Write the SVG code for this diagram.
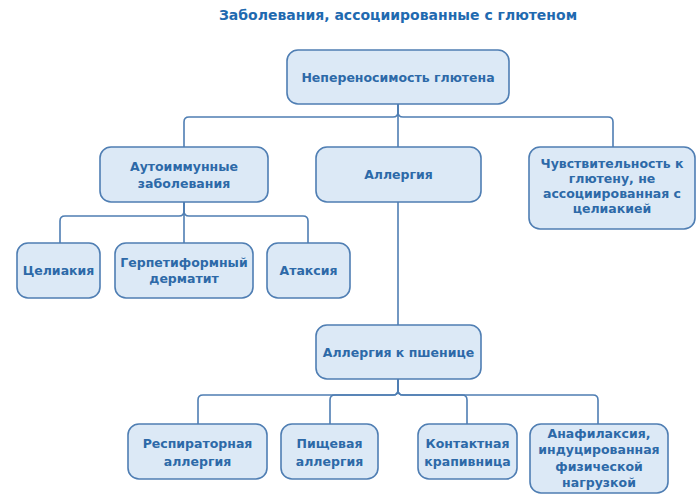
<svg xmlns="http://www.w3.org/2000/svg" width="700" height="497" viewBox="0 0 700 497">
<style>
.box{fill:#dce9f6;stroke:#4f7eb3;stroke-width:1.6}
.t{font-family:"DejaVu Sans","Liberation Sans",sans-serif;font-weight:bold;font-size:12.5px;fill:#2d69a8;text-anchor:middle}
.title{font-family:"DejaVu Sans","Liberation Sans",sans-serif;font-weight:bold;font-size:14px;fill:#1f6ab0;text-anchor:middle}
.c{fill:none;stroke:#4f7eb3;stroke-width:1.6}
</style>
<rect width="700" height="497" fill="#ffffff"/>
<text class="title" x="398" y="20">Заболевания, ассоциированные с глютеном</text>
<g id="connectors">
<path class="c" d="M398,104 V147"/>
<path class="c" d="M398,104 V112 Q398,117 393,117 H189 Q184,117 184,122 V147"/>
<path class="c" d="M398,104 V112 Q398,117 403,117 H608 Q613,117 613,122 V147"/>
<path class="c" d="M184,202 V243"/>
<path class="c" d="M184,202 V211 Q184,216 179,216 H65 Q60,216 60,221 V243"/>
<path class="c" d="M184,202 V211 Q184,216 189,216 H303 Q308,216 308,221 V243"/>
<path class="c" d="M398,202 V325"/>
<path class="c" d="M398,379 V390 Q398,395 393,395 H203 Q198,395 198,400 V424"/>
<path class="c" d="M398,379 V390 Q398,395 393,395 H335 Q330,395 330,400 V424"/>
<path class="c" d="M398,379 V390 Q398,395 403,395 H462 Q467,395 467,400 V424"/>
<path class="c" d="M398,379 V390 Q398,395 403,395 H593 Q598,395 598,400 V424"/>
</g>
<g id="root"><rect class="box" x="287" y="50" width="222" height="54" rx="11"/><text class="t" x="398" y="81.5">Непереносимость глютена</text></g>
<g id="autoimmune"><rect class="box" x="100" y="147" width="168" height="55" rx="11"/><text class="t" x="184" y="170.5">Аутоиммунные</text><text class="t" x="184" y="187.5">заболевания</text></g>
<g id="allergy"><rect class="box" x="316" y="147" width="165" height="55" rx="11"/><text class="t" x="398.5" y="179">Аллергия</text></g>
<g id="sensitivity"><rect class="box" x="529" y="147" width="166" height="82" rx="11"/><text class="t" x="612" y="167.5">Чувствительность к</text><text class="t" x="612" y="182.5">глютену, не</text><text class="t" x="612" y="197.5">ассоциированная с</text><text class="t" x="612" y="212.5">целиакией</text></g>
<g id="celiac"><rect class="box" x="17" y="243" width="83" height="55" rx="11"/><text class="t" x="58.5" y="275">Целиакия</text></g>
<g id="dermatitis"><rect class="box" x="115" y="243" width="138" height="55" rx="11"/><text class="t" x="184" y="266.5">Герпетиформный</text><text class="t" x="184" y="282.5">дерматит</text></g>
<g id="ataxia"><rect class="box" x="267" y="243" width="83" height="55" rx="11"/><text class="t" x="308.5" y="275">Атаксия</text></g>
<g id="wheat"><rect class="box" x="316" y="325" width="165" height="54" rx="11"/><text class="t" x="398.5" y="356.5">Аллергия к пшенице</text></g>
<g id="respiratory"><rect class="box" x="128" y="424" width="139" height="55" rx="11"/><text class="t" x="197.5" y="447.5">Респираторная</text><text class="t" x="197.5" y="465.5">аллергия</text></g>
<g id="food"><rect class="box" x="281" y="424" width="97" height="55" rx="11"/><text class="t" x="329.5" y="447.5">Пищевая</text><text class="t" x="329.5" y="465.5">аллергия</text></g>
<g id="contact"><rect class="box" x="418" y="424" width="99" height="55" rx="11"/><text class="t" x="467.5" y="447.5">Контактная</text><text class="t" x="467.5" y="465.5">крапивница</text></g>
<g id="anaphylaxis"><rect class="box" x="530" y="424" width="138" height="69" rx="11"/><text class="t" x="599" y="437.5">Анафилаксия,</text><text class="t" x="599" y="454">индуцированная</text><text class="t" x="599" y="470.5">физической</text><text class="t" x="599" y="487">нагрузкой</text></g>
</svg>
